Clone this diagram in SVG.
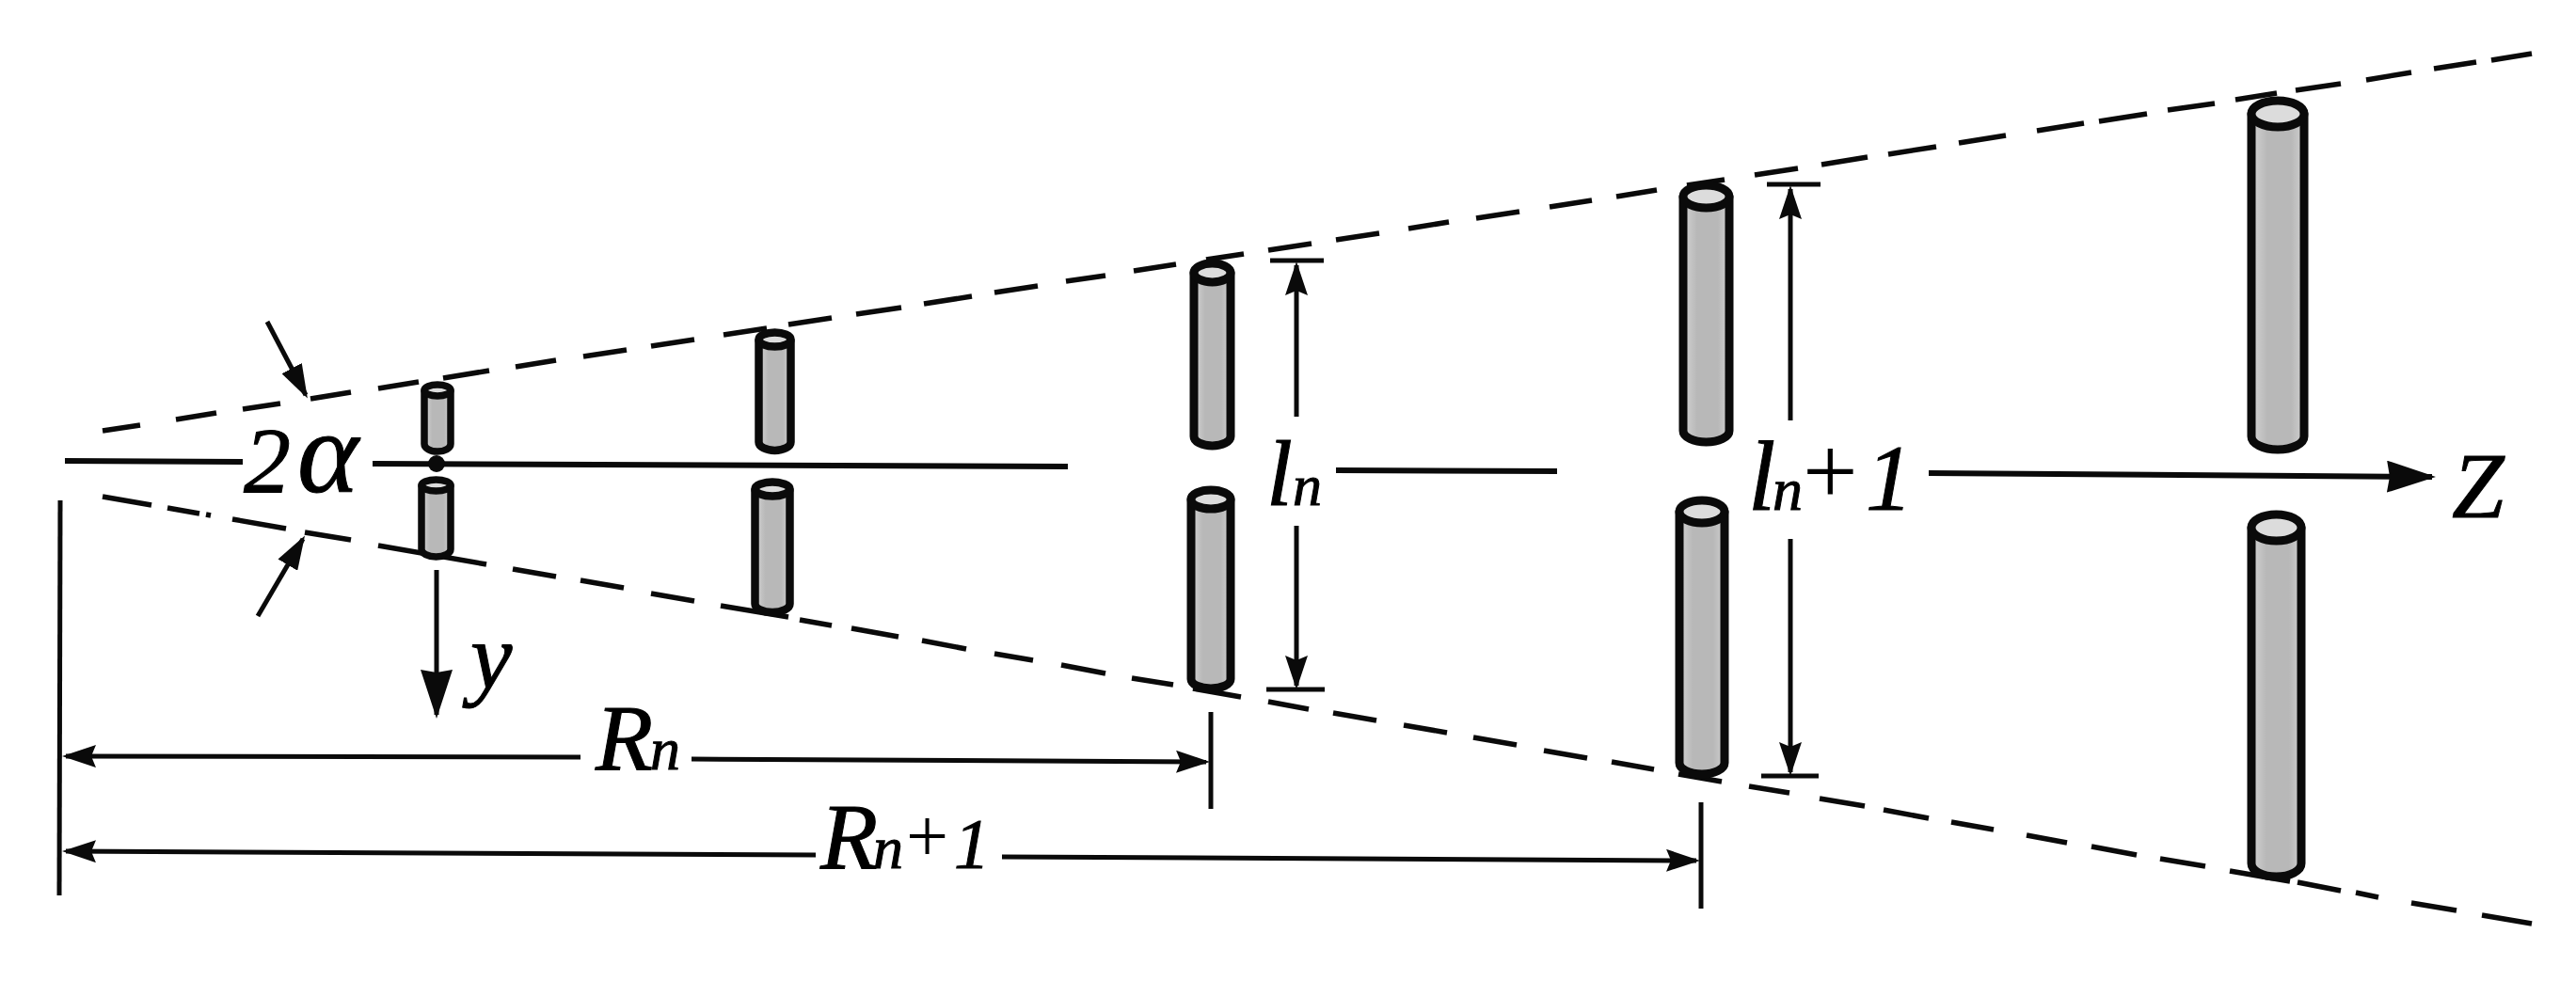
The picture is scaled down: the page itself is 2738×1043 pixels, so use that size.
<svg xmlns="http://www.w3.org/2000/svg" width="2738" height="1043" viewBox="0 0 2738 1043">
<style>
.bg{fill:#fff}
.dash{fill:none;stroke:#0a0a0a;stroke-width:5.500;stroke-linecap:butt}
.ln{fill:none;stroke:#0a0a0a;stroke-width:5}
.axis{fill:none;stroke:#0a0a0a;stroke-width:6}
.body{fill:url(#rod);stroke:#0a0a0a;stroke-linejoin:round}
.cap{fill:#dcdcdc;stroke:#0a0a0a}
.t{font-family:"Liberation Serif","Times New Roman",serif;font-style:italic;fill:#000;stroke:#000;stroke-width:1;font-size:100px}
.s{font-size:64px}
</style>
<defs>
<linearGradient id="rod" x1="0" x2="1" y1="0" y2="0">
<stop offset="0" stop-color="#d4d4d4"/><stop offset="0.3" stop-color="#b8b8b8"/><stop offset="0.75" stop-color="#b8b8b8"/><stop offset="1" stop-color="#d0d0d0"/>
</linearGradient>
<marker id="hs" markerUnits="userSpaceOnUse" markerWidth="36" markerHeight="24" viewBox="0 0 36 24" refX="32" refY="12" orient="auto"><path d="M0 0L36 12L0 24L5 12Z" fill="#0a0a0a"/></marker>
<marker id="hm" markerUnits="userSpaceOnUse" markerWidth="36" markerHeight="24" viewBox="0 0 36 24" refX="32" refY="12" orient="auto"><path d="M0 0L36 12L0 24Z" fill="#0a0a0a"/></marker>
<marker id="hl" markerUnits="userSpaceOnUse" markerWidth="52" markerHeight="34" viewBox="0 0 52 34" refX="48" refY="17" orient="auto"><path d="M0 0L52 17L0 34L3 17Z" fill="#0a0a0a"/></marker>
</defs>
<rect class="bg" width="2738" height="1043"/>
<g id="connectors">
<path id="cone-top" class="dash" d="M109 458L149 452M187 446L230 439M258 435L298 429M330 424L373 417M402 413L445 406M471 402L520 394M548 390L591 383M620 379L666 372M692 368L738 361M769 356L815 349M838 345L884 338M910 334L958 327M982 323L1033 315M1057 311L1103 304M1133 299L1175 293M1205 288L1250 281M1282 276L1322 270M1348 266L1394 259M1420 255L1466 248M1497 243L1540 236M1569 232L1615 225M1647 220L1692 213M1718 209L1761 202M1793 197L1833 191M1865 186L1911 179M1936 175L1985 167M2007 164L2058 156M2082 152L2132 144M2165 139L2215 131M2231 129L2282 121M2304 117L2354 110M2376 106L2420 99M2440 96L2488 89M2515 85L2563 77M2587 73L2632 66M2648 64L2691 57"/>
<path id="cone-bottom" class="dash" d="M109 528L161 537M178 540L212 546M219 547L224 548M247 552L304 562M324 566L373 574M402 580L517 600M545 605L591 613M617 617L663 625M692 631L738 639M766 644L838 656M850 659L884 665M905 668L955 677M980 681L1027 690M1057 695L1098 702M1128 707L1175 716M1203 721L1247 728M1268 732L1319 741M1348 746L1391 754M1417 758L1463 766M1492 771L1538 779M1566 784L1612 792M1641 798L1687 806M1713 810L1758 818M1784 823L1830 831M1859 836L1902 843M1934 849L1982 857M2002 861L2050 870M2074 874L2119 882M2154 888L2197 896M2223 900L2271 909M2296 913L2344 921M2370 926L2434 937M2442 938L2488 947M2504 949L2528 954M2563 960L2611 968M2638 973L2691 982"/>
<path id="axis-a" class="axis" d="M69 490L258 491"/>
<path id="axis-b" class="axis" d="M396 493L1135 496"/>
<path id="axis-c" class="axis" d="M1420 500L1655 501"/>
<path id="axis-z" class="axis" d="M2050 503L2585 507" marker-end="url(#hl)"/>
<path id="y-arrow" class="ln" d="M464 606V760" marker-end="url(#hl)"/>
<path id="angle-top" class="ln" d="M284 342L325 420" marker-end="url(#hm)"/>
<path id="angle-bottom" class="ln" d="M274 655L322 573" marker-end="url(#hm)"/>
<path id="left-extent" class="ln" d="M64 532L63 952"/>
<path id="rn-left" class="ln" d="M617 805L70 804" marker-end="url(#hs)"/>
<path id="rn-right" class="ln" d="M735 807L1282 810" marker-end="url(#hs)"/>
<path id="rn-tick" class="ln" d="M1287 757V860"/>
<path id="rn1-left" class="ln" d="M867 909L70 905" marker-end="url(#hs)"/>
<path id="rn1-right" class="ln" d="M1065 911L1803 915" marker-end="url(#hs)"/>
<path id="rn1-tick" class="ln" d="M1808 853V966"/>
<path id="ln-up" class="ln" d="M1378 443V282" marker-end="url(#hs)"/>
<path id="ln-down" class="ln" d="M1378 559V729" marker-end="url(#hs)"/>
<path id="ln-bars" class="ln" d="M1350 277H1407M1346 733H1408"/>
<path id="ln1-up" class="ln" d="M1903 447V201" marker-end="url(#hs)"/>
<path id="ln1-down" class="ln" d="M1903 573V821" marker-end="url(#hs)"/>
<path id="ln1-bars" class="ln" d="M1878 196H1935M1872 825H1933"/>
<circle id="origin-dot" cx="464" cy="493" r="9" fill="#0a0a0a"/>
</g>
<g id="rod-1-top" stroke-width="7.500"><path class="body" d="M451 416V472A14 8 0 0 0 479 472V416Z"/><ellipse class="cap" cx="465" cy="415" rx="14" ry="6"/></g>
<g id="rod-1-bottom" stroke-width="7.500"><path class="body" d="M448 517V584A15.500 8 0 0 0 479 584V517Z"/><ellipse class="cap" cx="463.500" cy="516" rx="15.500" ry="6"/></g>
<g id="rod-2-top" stroke-width="8.500"><path class="body" d="M806.500 362V470A17 9 0 0 0 840.500 470V362Z"/><ellipse class="cap" cx="823.500" cy="361" rx="17" ry="7.500"/></g>
<g id="rod-2-bottom" stroke-width="8.500"><path class="body" d="M802.500 521V642A18.500 9 0 0 0 839.500 642V521Z"/><ellipse class="cap" cx="821" cy="520" rx="18.500" ry="7.500"/></g>
<g id="rod-3-top" stroke-width="9"><path class="body" d="M1269 290V464A19.500 10 0 0 0 1308 464V290Z"/><ellipse class="cap" cx="1288.500" cy="290" rx="19.500" ry="10"/></g>
<g id="rod-3-bottom" stroke-width="9"><path class="body" d="M1266 531V722A21 10 0 0 0 1308 722V531Z"/><ellipse class="cap" cx="1287" cy="531" rx="21" ry="10"/></g>
<g id="rod-4-top" stroke-width="9"><path class="body" d="M1789 209V458A24.500 12 0 0 0 1838 458V209Z"/><ellipse class="cap" cx="1813.500" cy="209" rx="24.500" ry="12"/></g>
<g id="rod-4-bottom" stroke-width="9"><path class="body" d="M1785 544V811A24 12 0 0 0 1833 811V544Z"/><ellipse class="cap" cx="1809" cy="544" rx="24" ry="12"/></g>
<g id="rod-5-top" stroke-width="9"><path class="body" d="M2393 121V464A28 14 0 0 0 2449 464V121Z"/><ellipse class="cap" cx="2421" cy="121" rx="28" ry="14"/></g>
<g id="rod-5-bottom" stroke-width="9"><path class="body" d="M2393 561V918A26.500 14 0 0 0 2446 918V561Z"/><ellipse class="cap" cx="2419.500" cy="561" rx="26.500" ry="14"/></g>
<g id="labels">
<text id="label-2a" class="t" y="523"><tspan x="259">2</tspan><tspan x="316" font-size="124">α</tspan></text>
<text id="label-y" class="t" x="500" y="732">y</text>
<text id="label-rn" class="t" y="818"><tspan x="633">R</tspan><tspan x="691" class="s">n</tspan></text>
<text id="label-rn1" class="t" y="923"><tspan x="872">R</tspan><tspan x="928" class="s">n</tspan><tspan x="963" y="916" font-size="80" font-style="normal" stroke-width="0">+</tspan><tspan x="1014" y="923" font-size="76">1</tspan></text>
<text id="label-ln" class="t" y="537"><tspan x="1346">l</tspan><tspan x="1374" font-size="62">n</tspan></text>
<text id="label-ln1" class="t" y="542"><tspan x="1858" font-size="105">l</tspan><tspan x="1884" class="s">n</tspan><tspan x="1916" y="536" font-size="104" font-style="normal" stroke-width="0">+</tspan><tspan x="1983" y="542">1</tspan></text>
<text id="label-z" class="t" x="2606" y="550">Z</text>
</g>
</svg>
